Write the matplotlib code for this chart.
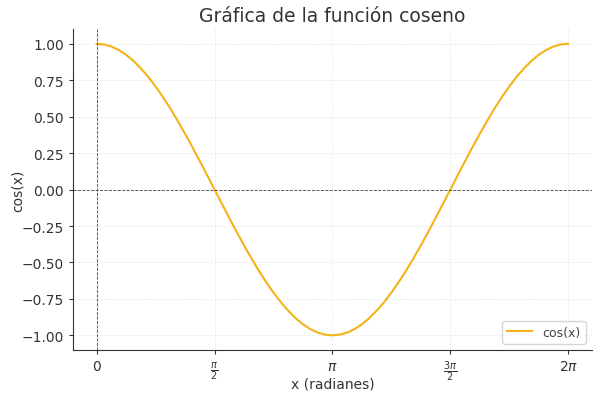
import numpy as np
import matplotlib
matplotlib.use("Agg")
import matplotlib.pyplot as plt

# x positions in units of pi (step 1/32), cos values
x_pi = [k / 32 for k in range(65)]
cos_vals = [1.0, 0.995, 0.981, 0.957, 0.924, 0.882, 0.831, 0.773,
            0.707, 0.634, 0.556, 0.471, 0.383, 0.290, 0.195, 0.098,
            0.0, -0.098, -0.195, -0.290, -0.383, -0.471, -0.556, -0.634,
            -0.707, -0.773, -0.831, -0.882, -0.924, -0.957, -0.981, -0.995,
            -1.0, -0.995, -0.981, -0.957, -0.924, -0.882, -0.831, -0.773,
            -0.707, -0.634, -0.556, -0.471, -0.383, -0.290, -0.195, -0.098,
            0.0, 0.098, 0.195, 0.290, 0.383, 0.471, 0.556, 0.634,
            0.707, 0.773, 0.831, 0.882, 0.924, 0.957, 0.981, 0.995, 1.0]
tick_pi = [0, 0.5, 1, 1.5, 2]
tick_labels = ["$0$", r"$\frac{\pi}{2}$", r"$\pi$", r"$\frac{3\pi}{2}$", r"$2\pi$"]

x = np.array(x_pi) * np.pi

fig, ax = plt.subplots(figsize=(5.99, 4.02), dpi=100)
fig.subplots_adjust(left=0.122, right=0.988, top=0.925, bottom=0.127)
ax.plot(x, cos_vals, color="#f2b418", linewidth=1.5, label="cos(x)")
ax.axhline(0, color="#444444", linewidth=0.6, linestyle="--")
ax.axvline(0, color="#444444", linewidth=0.6, linestyle="--")

ax.set_title("Gráfica de la función coseno", fontsize=13.5, color="#333333")
ax.set_xlabel("x (radianes)", fontsize=10, color="#333333", labelpad=-5)
ax.set_ylabel("cos(x)", fontsize=10, color="#333333", labelpad=-2)
ax.set_xticks(np.array(tick_pi) * np.pi)
ax.set_xticklabels(tick_labels)
ax.set_yticks([-1, -0.75, -0.5, -0.25, 0, 0.25, 0.5, 0.75, 1])
ax.tick_params(labelsize=10, colors="#333333", length=3)

ax.grid(True, color="#ececec", linewidth=0.6, linestyle="--")
for s in ["top", "right"]:
    ax.spines[s].set_visible(False)
for s in ["left", "bottom"]:
    ax.spines[s].set_color("#333333")
ax.legend(loc="lower right", fontsize=9, labelcolor="#444444")

plt.savefig("out.png")
